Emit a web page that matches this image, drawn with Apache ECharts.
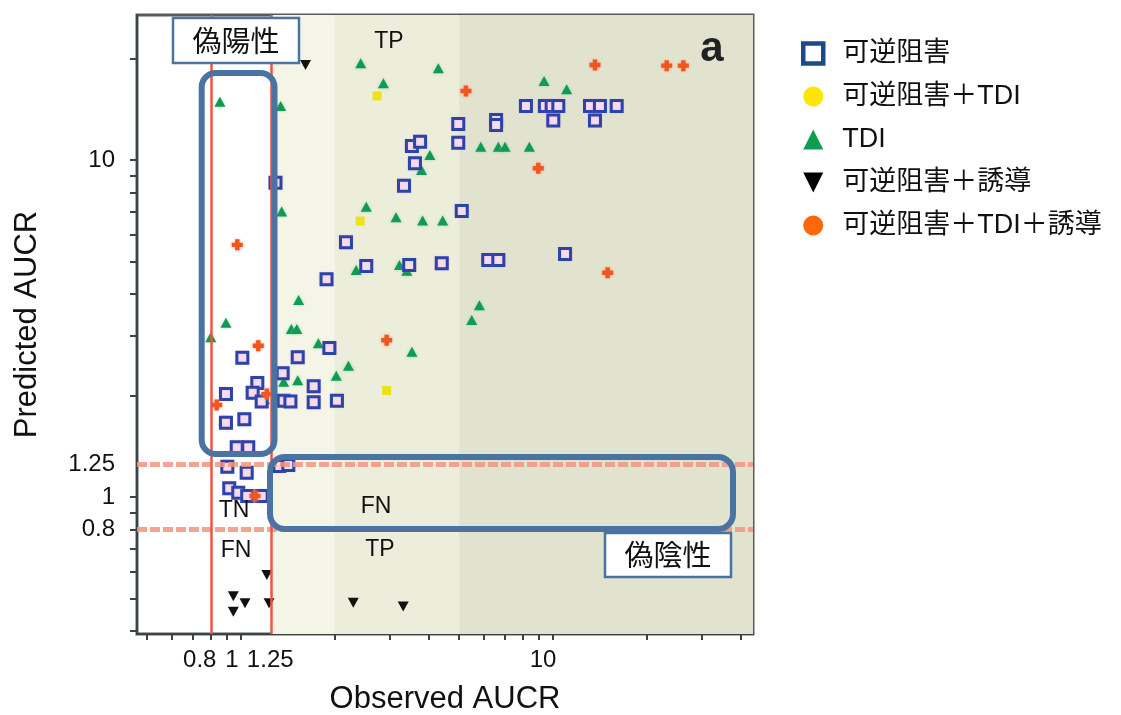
<!DOCTYPE html>
<html><head><meta charset="utf-8">
<script src="https://cdn.jsdelivr.net/npm/echarts@6/dist/echarts.min.js"></script>
<style>html,body{margin:0;padding:0;background:#fff}#c{width:1121px;height:715px}</style>
</head><body><div id="c"></div>
<script>
// ---- data (Observed AUCR, Predicted AUCR) ----
const seriesNames = ['可逆阻害', '可逆阻害＋TDI', 'TDI', '可逆阻害＋誘導', '可逆阻害＋TDI＋誘導'];

const revObs  = [1.29,3.53,3.75,3.61,3.33,8.19,9.42,9.90,10.4,13.14,14.14,16.0,4.97,6.57,6.57,10.02,13.63,4.97,5.10,2.17,2.52,3.46,4.40,1.88,6.20,6.68,10.93,1.92,1.01,1.52,1.36,1.71,1.128,1.09,0.895,1.165,1.37,1.44,1.71,2.03,0.895,1.025,0.969,1.055,0.904,1.043,1.327,1.418,0.917,0.98,1.047,1.165];
const revPred = [8.56,11.0,11.33,9.78,8.39,14.46,14.46,14.46,14.46,14.46,14.46,14.46,12.79,13.15,12.70,13.09,13.09,11.25,7.06,5.70,4.85,4.88,4.94,4.43,5.05,5.05,5.26,2.77,2.59,2.60,2.33,2.13,2.18,2.04,2.02,1.92,1.93,1.92,1.91,1.93,1.66,1.70,1.405,1.405,1.23,1.18,1.236,1.245,1.061,1.03,1.007,1.007];

const revTdiObs  = [2.73,2.41,2.93];
const revTdiPred = [15.49,6.59,2.07];

const tdiObs  = [2.42,4.29,2.86,0.856,1.34,4.03,3.79,9.36,11.06,5.87,6.68,7.02,8.40,2.52,1.35,3.14,3.82,4.43,2.34,3.22,3.40,1.53,0.895,0.80,1.45,1.51,1.77,3.53,2.21,2.02,1.37,1.52,1.19,0.882,5.81,5.49];
const tdiPred = [19.36,18.71,16.89,14.89,14.46,10.35,9.34,17.16,16.21,10.95,10.95,10.95,10.95,7.27,7.03,6.76,6.61,6.61,4.72,4.88,4.69,3.84,3.29,2.98,3.15,3.15,2.86,2.70,2.45,2.29,2.20,2.22,1.95,1.69,3.71,3.35];

const revIndObs  = [1.61,1.21,0.945,1.03,0.945,1.23,2.29,3.31];
const revIndPred = [19.14,0.587,0.508,0.484,0.457,0.484,0.486,0.473];

const allObs  = [0.973,1.136,2.93,0.836,1.21,1.109,8.97,5.26,13.63,23.14,26.16,14.97];
const allPred = [5.60,2.81,2.92,1.875,2.02,1.007,9.45,16.02,19.14,19.05,19.05,4.63];

// axis ticks / labels
const xTickLabels = [0.8, 1, 1.25, 10];
const yTickLabels = [0.8, 1, 1.25, 10];
const xTicks = [0.5,0.6,0.7,0.8,0.9,1,2,3,4,5,6,7,8,9,10,20,30,40];
const yTicks = [0.4,0.5,0.6,0.7,0.8,0.9,1,2,3,4,5,6,7,8,9,10,20];
const xRange = [0.4642, 43.75];
const yRange = [0.3923, 26.93];
const thresholds = [0.8, 1.25];
const bandEdges = [1.25, 2, 5];

function pts(xs, ys) { return xs.map((x, i) => [x, ys[i]]); }
const fmt = v => String(+(+v).toPrecision(3));
// the printed x labels sit a little left of their ticks in the original figure
const xLabelShift = {'0.8': 22, '1': 18, '1.25': 2, '10': 20};
const fmtX = v => { const s = fmt(v); return '{t' + (xLabelShift[s] || 0) + '|' + s + '}'; };
const LAT = '"Liberation Sans", Arial, sans-serif';
const CJK = '"Liberation Sans", "Noto Sans CJK JP", sans-serif';
const axisCol = '#3a4347';
const xRich = {};
Object.values(xLabelShift).forEach(p => { xRich['t' + p] = {fontSize: 24, fontFamily: LAT, color: '#111', padding: [0, p, 0, 0]}; });

const chart = echarts.init(document.getElementById('c'), null, {renderer: 'canvas'});
chart.setOption({
  animation: false,
  backgroundColor: '#fff',
  grid: {left: 137, top: 15, right: 368, bottom: 81, outerBoundsMode: 'none', containLabel: false,
         show: true, backgroundColor: '#fff', borderColor: '#5a5a5a', borderWidth: 3},
  xAxis: {
    type: 'log', logBase: 10, min: xRange[0], max: xRange[1],
    name: 'Observed AUCR', nameLocation: 'middle', nameGap: 50,
    nameTextStyle: {fontSize: 31, fontFamily: LAT, color: '#111'},
    axisLine: {show: true, onZero: false, lineStyle: {color: axisCol, width: 2}},
    axisTick: {show: true, customValues: xTicks, length: 6, lineStyle: {color: axisCol, width: 2}},
    axisLabel: {customValues: xTickLabels, margin: 14, fontSize: 24, fontFamily: LAT, color: '#111', formatter: fmtX, rich: xRich},
    minorTick: {show: false}, splitLine: {show: false}
  },
  yAxis: {
    type: 'log', logBase: 10, min: yRange[0], max: yRange[1],
    name: 'Predicted AUCR', nameLocation: 'middle', nameGap: 94,
    nameTextStyle: {fontSize: 31, fontFamily: LAT, color: '#111'},
    axisLine: {show: true, onZero: false, lineStyle: {color: axisCol, width: 2}},
    axisTick: {show: true, customValues: yTicks, length: 7, lineStyle: {color: axisCol, width: 2}},
    axisLabel: {customValues: yTickLabels, margin: 22, fontSize: 24, fontFamily: LAT, color: '#111', formatter: fmt},
    minorTick: {show: false}, splitLine: {show: false}
  },
  legend: {
    orient: 'vertical', left: 796, top: 35, itemWidth: 20, itemHeight: 20, itemGap: 16,
    selectedMode: false,
    textStyle: {fontSize: 27, lineHeight: 27, fontFamily: CJK, color: '#111', padding: [0, 0, 0, 14]},
    data: [
      {name: seriesNames[0], icon: 'rect', itemStyle: {color: '#fff', borderColor: '#1d4a87', borderWidth: 4.5, opacity: 1}},
      {name: seriesNames[1], icon: 'circle', itemStyle: {color: '#ffe500', borderWidth: 0, opacity: 1}},
      {name: seriesNames[2], icon: 'triangle', itemStyle: {color: '#0f9d50', borderWidth: 0, opacity: 1}},
      {name: seriesNames[3], icon: 'path://M0,0L10,0L5,10Z', itemStyle: {color: '#000', borderWidth: 0, opacity: 1}},
      {name: seriesNames[4], icon: 'circle', itemStyle: {color: '#ff680a', borderWidth: 0, opacity: 1}}
    ]
  },
  series: [
    {
      type: 'scatter', data: [], z: 1, silent: true,
      markArea: {
        silent: true,
        data: [
          [{xAxis: bandEdges[0], itemStyle: {color: '#f4f5e7', opacity: 1}}, {xAxis: bandEdges[1]}],
          [{xAxis: bandEdges[1], itemStyle: {color: '#ecedda', opacity: 1}}, {xAxis: bandEdges[2]}],
          [{xAxis: bandEdges[2], itemStyle: {color: '#e2e3cf', opacity: 1}}, {xAxis: xRange[1]}]
        ]
      },
      markLine: {
        silent: true, symbol: 'none', label: {show: false},
        data: [
          {yAxis: thresholds[0], lineStyle: {color: '#f2957f', width: 5, type: [10, 3], opacity: 0.85}},
          {yAxis: thresholds[1], lineStyle: {color: '#f2957f', width: 5, type: [10, 3], opacity: 0.85}},
          {xAxis: thresholds[0], lineStyle: {color: '#ec5546', width: 2.5, type: 'solid', opacity: 1}},
          {xAxis: thresholds[1], lineStyle: {color: '#ec5546', width: 2.5, type: 'solid', opacity: 1}}
        ]
      }
    },
    {name: seriesNames[2], type: 'scatter', z: 3, data: pts(tdiObs, tdiPred), symbol: 'triangle', symbolSize: [11, 10],
      itemStyle: {color: '#109a55', opacity: 1, shadowBlur: 3, shadowColor: 'rgba(120,210,150,0.7)'}},
    {name: seriesNames[1], type: 'scatter', z: 3, data: pts(revTdiObs, revTdiPred), symbol: 'rect', symbolSize: 9,
      itemStyle: {color: '#ece21c', opacity: 1}},
    {name: seriesNames[0], type: 'scatter', z: 4, data: pts(revObs, revPred), symbol: 'rect', symbolSize: 11,
      itemStyle: {color: '#f6dcee', borderColor: '#2a44a8', borderWidth: 3, opacity: 1, shadowBlur: 2, shadowColor: 'rgba(240,150,210,0.35)'}},
    {name: seriesNames[3], type: 'scatter', z: 4, data: pts(revIndObs, revIndPred), symbol: 'triangle', symbolRotate: 180, symbolSize: [11, 10],
      itemStyle: {color: '#111', opacity: 1}},
    {name: seriesNames[4], type: 'scatter', z: 4, data: pts(allObs, allPred), symbol: 'path://M3,0H7V3H10V7H7V10H3V7H0V3H3Z', symbolSize: 11,
      itemStyle: {color: '#f0561f', opacity: 1, shadowBlur: 3, shadowColor: 'rgba(245,150,110,0.8)'}}
  ],
  graphic: [
    {type: 'rect', z: 100, shape: {x: 201.7, y: 73, width: 72.8, height: 381, r: 14}, style: {fill: 'none', stroke: '#4a73a1', lineWidth: 6}},
    {type: 'rect', z: 100, shape: {x: 270, y: 457, width: 463, height: 72, r: 15}, style: {fill: 'none', stroke: '#4a73a1', lineWidth: 6}},
    {type: 'rect', z: 100, shape: {x: 173, y: 18, width: 126, height: 45}, style: {fill: '#fff', stroke: '#4a73a1', lineWidth: 2.5}},
    {type: 'rect', z: 100, shape: {x: 605, y: 533, width: 126, height: 44}, style: {fill: '#fff', stroke: '#4a73a1', lineWidth: 2.5}},
    {type: 'text', z: 101, x: 236, y: 41, style: {text: '偽陽性', fontSize: 29, fontFamily: '"Noto Sans CJK JP"', fill: '#111', align: 'center', verticalAlign: 'middle'}},
    {type: 'text', z: 101, x: 668, y: 555, style: {text: '偽陰性', fontSize: 29, fontFamily: '"Noto Sans CJK JP"', fill: '#111', align: 'center', verticalAlign: 'middle'}},
    {type: 'text', z: 101, x: 389, y: 42, style: {text: 'TP', fontSize: 23, fontFamily: LAT, fill: '#111', align: 'center', verticalAlign: 'middle'}},
    {type: 'text', z: 101, x: 712, y: 49, style: {text: 'a', fontSize: 42, fontWeight: 'bold', fontFamily: LAT, fill: '#222', align: 'center', verticalAlign: 'middle'}},
    {type: 'text', z: 101, x: 234, y: 511, style: {text: 'TN', fontSize: 23, fontFamily: LAT, fill: '#111', align: 'center', verticalAlign: 'middle'}},
    {type: 'text', z: 101, x: 236, y: 551, style: {text: 'FN', fontSize: 23, fontFamily: LAT, fill: '#111', align: 'center', verticalAlign: 'middle'}},
    {type: 'text', z: 101, x: 376, y: 507, style: {text: 'FN', fontSize: 23, fontFamily: LAT, fill: '#111', align: 'center', verticalAlign: 'middle'}},
    {type: 'text', z: 101, x: 380, y: 550, style: {text: 'TP', fontSize: 23, fontFamily: LAT, fill: '#111', align: 'center', verticalAlign: 'middle'}}
  ]
});
</script></body></html>
